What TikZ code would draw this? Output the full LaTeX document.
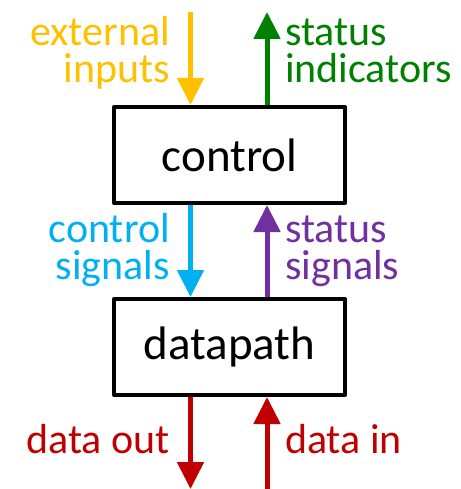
\documentclass[tikz,border=0pt]{standalone}
\usepackage{fontspec}
\setmainfont{Carlito}
\usetikzlibrary{arrows.meta}

\definecolor{cinput}{HTML}{FFC000}
\definecolor{cstatus}{HTML}{008000}
\definecolor{csignal}{HTML}{00B0F0}
\definecolor{cback}{HTML}{7030A0}
\definecolor{cdata}{HTML}{C00000}

\tikzset{
  unit/.style={draw=black, line width=4pt, line join=round, fill=white,
    minimum width=231pt, minimum height=96pt, inner sep=0pt,
    font=\fontsize{47}{47}\selectfont},
  flow/.style={line width=5pt, -{Triangle[width=26pt,length=27pt]}},
  lbl/.style={inner sep=0pt, font=\fontsize{42}{37}\selectfont},
  lblL/.style={lbl, align=right, anchor=base east},
  lblR/.style={lbl, align=left, anchor=base west},
}

\begin{document}
\begin{tikzpicture}[x=1pt,y=-1pt]
  \useasboundingbox (0,0) rectangle (460,489);

  % the two blocks
  \node[unit] (ctrl) at (229.5,155) {control};
  \node[unit] (dp) at (229.5,347) {datapath};

  % free ends of the outside connections
  \coordinate (extin) at (190.5,12);
  \coordinate (statout) at (267,12);
  \coordinate (dout) at (190.5,489);
  \coordinate (din) at (267,489);

  % connections
  \draw[flow, cinput] (extin) -- (extin |- ctrl.north);
  \draw[flow, cstatus] (statout |- ctrl.north) -- (statout);
  \draw[flow, csignal] (extin |- ctrl.south) -- (extin |- dp.north);
  \draw[flow, cback] (statout |- dp.north) -- (statout |- ctrl.south);
  \draw[flow, cdata] (dout |- dp.south) -- (dout);
  \draw[flow, cdata] (din) -- (din |- dp.south);

  % labels (a two-line label is anchored at the baseline of its last line)
  \node[lblL, cinput] (l1) at (170,83) {external\\inputs};
  \node[lblR, cstatus] (l2) at (285,83) {status\\indicators};
  \node[lblL, csignal] (l3) at (170,279) {control\\signals};
  \node[lblR, cback] (l4) at (285,279) {status\\signals};
  \node[lblL, cdata] (l5) at (170,453) {data out};
  \node[lblR, cdata] (l6) at (285,453) {data in};
\end{tikzpicture}
\end{document}
